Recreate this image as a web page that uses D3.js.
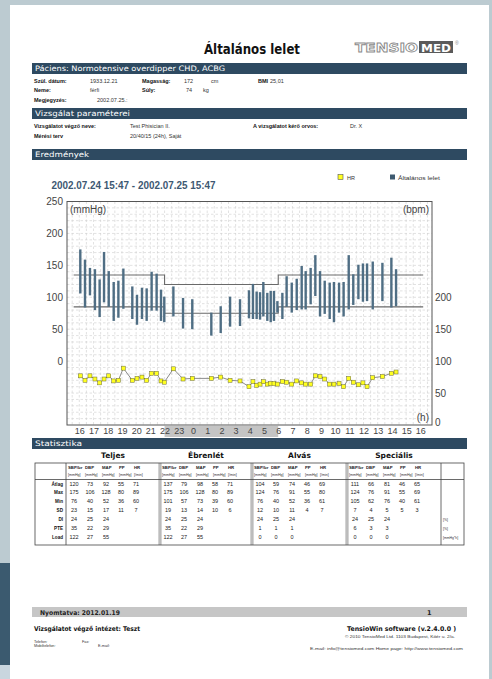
<!DOCTYPE html>
<html><head><meta charset="utf-8">
<script src="https://cdn.jsdelivr.net/npm/d3@7"></script>
<style>body{margin:0;background:#bccbd1;overflow:hidden}svg{display:block}</style>
</head><body><svg id="c" width="492" height="679"></svg>
<script>
// ---------- DATA ----------
const times = [16.07,16.40,16.75,17.10,17.43,17.74,18.07,18.42,18.75,19.10,19.73,20.06,20.41,20.74,21.09,21.44,21.75,21.98,22.62,23.30,23.95,25.29,25.95,26.61,27.31,27.94,28.22,28.48,28.72,28.95,29.23,29.47,29.70,29.94,30.29,30.59,30.95,31.30,31.65,31.93,32.28,32.61,32.94,33.27,33.62,33.92,34.28,34.60,34.96,35.28,35.64,35.96,36.25,36.65,37.33,37.96,38.29];
const systolic = [175,159,146,144,128,171,141,124,126,145,117,104,115,114,140,137,112,101,117,99,97,76,86,101,97,111,121,109,108,124,107,110,110,94,107,133,123,129,149,141,146,166,141,126,123,124,123,124,166,136,151,153,153,156,154,162,144];
const diastolic = [106,84,103,80,69,92,85,63,68,82,66,57,66,63,79,79,63,61,70,51,50,40,44,54,55,67,66,66,65,70,63,61,63,76,66,85,76,80,81,81,89,102,70,74,66,61,76,70,81,88,97,93,94,81,94,84,86];
const heartRate = [77,70,77,72,66,72,77,69,70,89,70,73,75,70,81,81,69,67,88,72,73,73,75,70,69,60,68,62,64,68,64,65,65,64,68,67,64,69,66,64,64,77,76,72,64,64,65,60,73,67,63,66,60,74,76,81,83];
const xTickHours = [16,17,18,19,20,21,22,23,24,25,26,27,28,29,30,31,32,33,34,35,36,37,38,39,40];
const xTickLabels = ["16","17","18","19","20","21","22","23","0","1","2","3","4","5","6","7","8","9","10","11","12","13","14","15","16"];
const leftTicks = [0,50,100,150,200,250];
const rightTicks = [0,50,100,150,200];
const sysLimits = [{from:15.6,to:22,v:135},{from:22,to:30,v:120},{from:30,to:40.2,v:135}];
const diaLimits = [{from:15.6,to:22,v:85},{from:22,to:30,v:75},{from:30,to:40.2,v:85}];
const nightBand = [22,30];

const statGroups = ["Teljes","Ébrenlét","Alvás","Speciális"];
const statRowNames = ["Átlag","Max","Min","SD","DI","PTE","Load"];
const statColNames = ["SBP/br","DBP","MAP","PP","HR"];
const statColUnits = ["[mmHg]","[mmHg]","[mmHg]","[mmHg]","[/min]"];
const statRowUnits = ["","","","","[%]","[%]","[mmHg*h]"];
const statsTeljes = [[120,73,92,55,71],[175,106,128,80,89],[76,40,52,36,60],[23,15,17,11,7],[24,25,24],[35,22,29],[122,27,55]];
const statsEbrenlet = [[137,79,98,58,71],[175,106,128,80,89],[101,57,73,39,60],[19,13,14,10,6],[24,25,24],[35,22,29],[122,27,55]];
const statsAlvas = [[104,59,74,46,69],[124,76,91,55,80],[76,40,52,36,61],[12,10,11,4,7],[24,25,24],[1,1,1],[0,0,0]];
const statsSpecialis = [[111,66,81,46,65],[124,76,91,55,69],[105,62,76,40,61],[7,4,5,5,3],[24,25,24],[6,3,3],[0,0,0]];

// ---------- DRAW ----------
const svg = d3.select("#c");
const SANS = "'Liberation Sans', Arial, sans-serif";
const VERD = "'DejaVu Sans', Verdana, sans-serif";
function txt(x,y,s,o={}){
  const t = svg.append("text").attr("x",x).attr("y",y).text(s)
    .attr("font-family",o.ff||SANS).attr("font-size",o.fs||7)
    .attr("fill",o.fill||"#222");
  if(o.bold) t.attr("font-weight","bold");
  if(o.anchor) t.attr("text-anchor",o.anchor);
  if(o.tl){ t.attr("textLength",o.tl).attr("lengthAdjust","spacingAndGlyphs"); }
  return t;
}

// page
svg.append("rect").attr("x",0).attr("y",0).attr("width",492).attr("height",679).attr("fill","#bccbd1");
svg.append("rect").attr("x",10).attr("y",5).attr("width",479).attr("height",674).attr("fill","#fff");
svg.append("rect").attr("x",0).attr("y",563).attr("width",10).attr("height",102).attr("fill","#3b5a6f");
svg.append("rect").attr("x",0).attr("y",665).attr("width",10).attr("height",14).attr("fill","#c9d6df");

// title + logo
txt(252,54,"Általános lelet",{ff:VERD,fs:14,bold:true,anchor:"middle",tl:96,fill:"#111"});
txt(355,52,"TENSIO",{ff:VERD,fs:12,bold:true,tl:63,fill:"#fff"}).attr("stroke","#8a8a8a").attr("stroke-width",0.8);
svg.append("rect").attr("x",419).attr("y",41).attr("width",34).attr("height",12).attr("fill","#5a5a5a");
txt(421,52,"MED",{ff:VERD,fs:11,bold:true,tl:30,fill:"#fff"});
txt(455,45,"®",{fs:5,fill:"#888"});

// section bars
function bar(y,h,label){
  svg.append("rect").attr("x",32).attr("y",y).attr("width",435).attr("height",h).attr("fill","#2e4a61");
  return txt(35,y+h-2.8,label,{ff:VERD,fs:7.5,fill:"#fff"});
}
bar(63,11,"Páciens: Normotensive overdipper CHD, ACBG").attr("textLength",190).attr("lengthAdjust","spacingAndGlyphs");
bar(108,11,"Vizsgálat paraméterei").attr("textLength",95).attr("lengthAdjust","spacingAndGlyphs");
bar(149,11,"Eredmények").attr("textLength",54).attr("lengthAdjust","spacingAndGlyphs");
bar(438,11,"Statisztika").attr("textLength",47).attr("lengthAdjust","spacingAndGlyphs");

// patient info
const L = {fs:5.5,bold:true,fill:"#111"}, V = {fs:5.5,fill:"#333"};
txt(34,83,"Szül. dátum:",L); txt(90,83,"1933.12.21",V); txt(142,83,"Magasság:",L); txt(184,83,"172",V); txt(211,83,"cm",V); txt(258,83,"BMI",L); txt(270,83,"25,01",V);
txt(34,92,"Neme:",L); txt(90,92,"férfi",V); txt(142,92,"Súly:",L); txt(186,92,"74",V); txt(203,92,"kg",V);
txt(34,102,"Megjegyzés:",L); txt(97,102,"2002.07.25.:",V);
txt(34,128,"Vizsgálatot végző neve:",L); txt(130,128,"Test Phisician II.",V); txt(253,128,"A vizsgálatot kérő orvos:",L); txt(350,128,"Dr. X",V);
txt(34,138,"Mérési terv",L); txt(130,138,"20/40/15 (24h), Saját",V);

// legend
svg.append("rect").attr("x",338).attr("y",174.5).attr("width",5).attr("height",5).attr("fill","#ffff20").attr("stroke","#555").attr("stroke-width",0.6);
txt(347,179.5,"HR",{fs:5.5,fill:"#333"});
svg.append("rect").attr("x",390).attr("y",174.5).attr("width",5).attr("height",5).attr("fill","#3e5a70");
txt(398,179.5,"Általános lelet",{fs:5.5,fill:"#333",tl:42});

// date
txt(51.5,188.5,"2002.07.24 15:47 - 2002.07.25 15:47",{fs:10.5,bold:true,fill:"#3d5872",tl:164});

// chart
const X0=67, X1=432, Y0=201.5, Y1=425;
const x = d3.scaleLinear().domain([15.134,40.82]).range([X0,X1]);
const yL = d3.scaleLinear().domain([-100,250]).range([Y1,Y0]);
const yR = d3.scaleLinear().domain([0,350]).range([Y1,Y0]);
const g = svg.append("g");
// grid
g.selectAll(".hg").data(d3.range(-90,250,10)).join("line")
  .attr("x1",X0).attr("x2",X1).attr("y1",d=>yL(d)).attr("y2",d=>yL(d))
  .attr("stroke","#cfcfcf").attr("stroke-width",0.6).attr("stroke-dasharray","2.5,2");
g.selectAll(".vg").data(d3.range(15.5,40.8,0.5)).join("line")
  .attr("y1",Y0).attr("y2",Y1).attr("x1",d=>x(d)).attr("x2",d=>x(d))
  .attr("stroke","#cfcfcf").attr("stroke-width",0.6).attr("stroke-dasharray","2.5,2");
// night band under x labels
g.append("rect").attr("x",x(nightBand[0])).attr("y",426).attr("width",x(nightBand[1])-x(nightBand[0])).attr("height",11).attr("fill","#c4c4c4");
// limits
[sysLimits,diaLimits].forEach(lim=>{
  const pts=[];
  lim.forEach(s=>{pts.push([x(s.from),yL(s.v)]);pts.push([x(s.to),yL(s.v)]);});
  g.append("path").attr("d",d3.line()(pts)).attr("fill","none").attr("stroke","#6a6a6a").attr("stroke-width",1.1);
});
// BP bars
g.selectAll(".bp").data(times).join("line")
  .attr("x1",d=>x(d)).attr("x2",d=>x(d))
  .attr("y1",(d,i)=>yL(diastolic[i])).attr("y2",(d,i)=>yL(systolic[i]))
  .attr("stroke","#4f6e84").attr("stroke-width",2.4);
// HR
g.append("path").attr("d",d3.line().x((d,i)=>x(times[i])).y((d,i)=>yR(heartRate[i]))(times))
  .attr("fill","none").attr("stroke","#8c8c8c").attr("stroke-width",1);
g.selectAll(".hr").data(times).join("rect")
  .attr("x",d=>x(d)-2).attr("y",(d,i)=>yR(heartRate[i])-2).attr("width",4).attr("height",4)
  .attr("fill","#ffff20").attr("stroke","#6a6a3a").attr("stroke-width",0.5);
// frame
g.append("rect").attr("x",X0).attr("y",Y0).attr("width",X1-X0).attr("height",Y1-Y0).attr("fill","none").attr("stroke","#555").attr("stroke-width",1);
// axes
const axL = svg.append("g").attr("transform",`translate(${X0},0)`).call(d3.axisLeft(yL).tickValues(leftTicks).tickSize(0).tickPadding(4));
const axR = svg.append("g").attr("transform",`translate(${X1},0)`).call(d3.axisRight(yR).tickValues(rightTicks).tickSize(0).tickPadding(3));
const axB = svg.append("g").attr("transform",`translate(0,${Y1})`).call(d3.axisBottom(x).tickValues(xTickHours).tickFormat((d,i)=>xTickLabels[i]).tickSize(0).tickPadding(3));
[axL,axR,axB].forEach(a=>{a.select(".domain").remove();a.selectAll("text").attr("font-family",SANS).attr("font-size",10).attr("fill","#444");});
axB.selectAll("text").attr("font-size",9);
axR.selectAll("text").filter(d=>d===0).attr("dy","0.05em");
txt(70,213,"(mmHg)",{fs:10,fill:"#444"});
txt(429,213,"(bpm)",{fs:10,fill:"#444",anchor:"end"});
txt(429,421,"(h)",{fs:10,fill:"#444",anchor:"end"});

// statistics table
const groupLeft = [66,160,252,347];
const groupData = [statsTeljes,statsEbrenlet,statsAlvas,statsSpecialis];
const valOff = [8,24,40,55,70], hdrOff=[2,19,36,53,68];
const TT=463, TH=479.5, TB=545, TL=35, TR=464;
const tb = svg.append("g");
tb.append("rect").attr("x",TL).attr("y",TT).attr("width",TR-TL).attr("height",TB-TT).attr("fill","none").attr("stroke","#444").attr("stroke-width",0.8);
tb.append("line").attr("x1",TL).attr("x2",TR).attr("y1",TH).attr("y2",TH).attr("stroke","#444").attr("stroke-width",0.8);
[66,441].forEach(v=>tb.append("line").attr("x1",v).attr("x2",v).attr("y1",TT).attr("y2",TB).attr("stroke","#444").attr("stroke-width",0.8));
[160,252,347].forEach(v=>{[-0.9,0.9].forEach(o=>tb.append("line").attr("x1",v+o).attr("x2",v+o).attr("y1",TT).attr("y2",TB).attr("stroke","#444").attr("stroke-width",0.6));});
statGroups.forEach((gname,gi)=>{
  const gl=groupLeft[gi], gw=(gi<3?groupLeft[gi+1]:441)-gl;
  txt(gl+gw/2,458,gname,{ff:VERD,fs:7.5,bold:true,anchor:"middle",fill:"#111"});
  statColNames.forEach((c,ci)=>{
    txt(gl+hdrOff[ci],469,c,{fs:4.3,bold:true,fill:"#222"});
    txt(gl+hdrOff[ci],475.5,statColUnits[ci],{fs:3.6,fill:"#333"});
  });
  groupData[gi].forEach((row,ri)=>{
    row.forEach((v,ci)=>txt(gl+valOff[ci],485.5+ri*8.9,String(v),{fs:5.5,anchor:"middle",fill:"#222"}));
  });
});
statRowNames.forEach((r,ri)=>{
  txt(63,485.5+ri*8.9,r,{fs:4.6,bold:true,anchor:"end",fill:"#111"});
  if(statRowUnits[ri]) txt(443,485.5+ri*8.9,statRowUnits[ri],{fs:3.4,fill:"#333"});
});

// footer
svg.append("rect").attr("x",32).attr("y",607).attr("width",435).attr("height",10).attr("fill","#c6c6c6");
txt(40,614.8,"Nyomtatva:  2012.01.19",{ff:VERD,fs:6.5,bold:true,fill:"#222",tl:80});
txt(427,614.8,"1",{ff:VERD,fs:6.5,bold:true,fill:"#222"});
txt(34,630.5,"Vizsgálatot végző intézet: Teszt",{ff:VERD,fs:6.5,bold:true,fill:"#111",tl:106});
txt(456,630.5,"TensioWin software (v.2.4.0.0 )",{ff:VERD,fs:6.5,bold:true,fill:"#111",anchor:"end",tl:109});
txt(455,637.5,"© 2010 TensioMed  Ltd. 1103 Budapest, Kőér u. 2/a.",{fs:4,fill:"#333",anchor:"end",tl:110});
txt(34,642.5,"Telefon:",{fs:3.8,fill:"#333"}); txt(82,642.5,"Fax:",{fs:3.8,fill:"#333"});
txt(34,647,"Mobiltelefon:",{fs:3.8,fill:"#333"}); txt(98,647,"E-mail:",{fs:3.8,fill:"#333"});
txt(463,650,"E-mail: info@tensiomed.com     Home page: http://www.tensiomed.com",{fs:3.8,fill:"#333",anchor:"end",tl:153});
</script></body></html>
